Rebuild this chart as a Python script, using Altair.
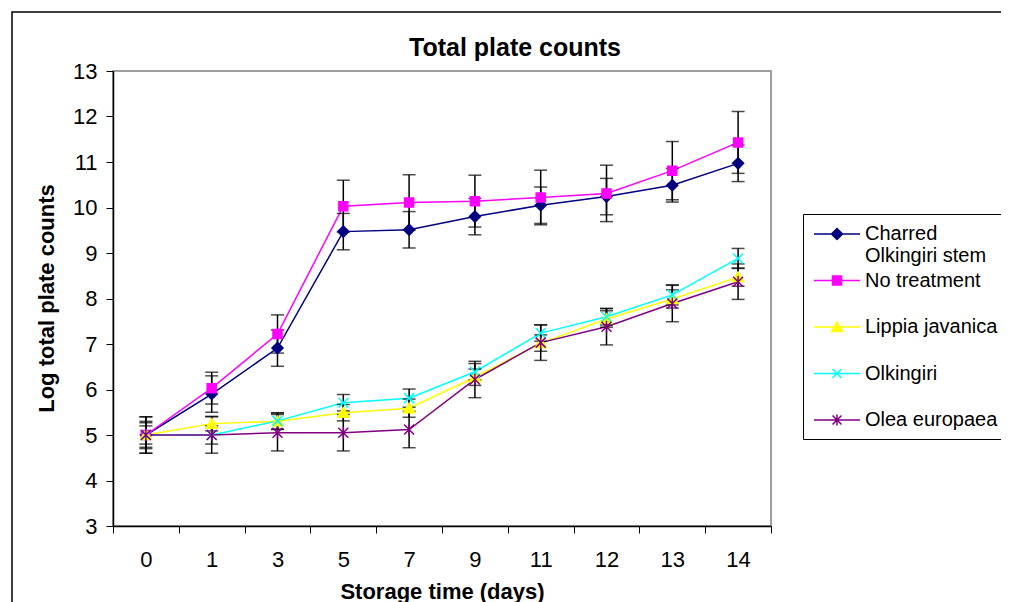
import altair as alt
import pandas as pd

days = ["0", "1", "3", "5", "7", "9", "11", "12", "13", "14"]
series = ["Charred Olkingiri stem", "No treatment", "Lippia javanica", "Olkingiri", "Olea europaea"]
colors = ["#000080", "#FF00FF", "#FFFF00", "#00FFFF", "#800080"]

charred = [5.0, 5.90, 6.91, 9.47, 9.51, 9.80, 10.05, 10.24, 10.49, 10.97]
no_treat = [5.0, 6.03, 7.22, 10.03, 10.11, 10.14, 10.22, 10.31, 10.81, 11.43]
lippia = [5.0, 5.25, 5.30, 5.49, 5.59, 6.27, 7.02, 7.55, 7.99, 8.47]
olkingiri = [5.0, 5.0, 5.31, 5.71, 5.81, 6.39, 7.24, 7.60, 8.08, 8.88]
olea = [5.0, 5.0, 5.05, 5.05, 5.12, 6.22, 7.03, 7.38, 7.89, 8.37]

err_charred = [0.4, 0.4, 0.4, 0.4, 0.4, 0.4, 0.4, 0.4, 0.37, 0.4]
err_no_treat = [0.3, 0.35, 0.42, 0.57, 0.61, 0.57, 0.6, 0.62, 0.64, 0.68]
err_lippia = [0.2, 0.16, 0.18, 0.18, 0.2, 0.18, 0.18, 0.18, 0.2, 0.2]
err_olkingiri = [0.27, 0.2, 0.18, 0.18, 0.2, 0.18, 0.18, 0.18, 0.22, 0.22]
err_olea = [0.4, 0.4, 0.4, 0.4, 0.4, 0.4, 0.39, 0.4, 0.4, 0.39]

chart_title = ["Total plate counts"]

values = [charred, no_treat, lippia, olkingiri, olea]
errors = [err_charred, err_no_treat, err_lippia, err_olkingiri, err_olea]

# marker shapes (plot) and legend symbols (line + marker)
plot_shapes = [
    "M0,-1.1L1.1,0L0,1.1L-1.1,0Z",
    "M-0.9,-0.9H0.9V0.9H-0.9Z",
    "M0,-1L1.1,0.9H-1.1Z",
    "M-1,-1L1,1M-1,1L1,-1",
    "M-1,-1L1,1M-1,1L1,-1M0,-1.2V1.2",
]
legend_shapes = [
    "M-2.3,0H2.3M0,-0.55L0.55,0L0,0.55L-0.55,0Z",
    "M-2.3,0H2.3M-0.45,-0.45H0.45V0.45H-0.45Z",
    "M-2.3,0H2.3M0,-0.5L0.55,0.45H-0.55Z",
    "M-2.3,0H2.3M-0.45,-0.45L0.45,0.45M-0.45,0.45L0.45,-0.45",
    "M-2.3,0H2.3M-0.45,-0.45L0.45,0.45M-0.45,0.45L0.45,-0.45M0,-0.55V0.55",
]

rows = []
for s, vals, errs in zip(series, values, errors):
    for d, v, e in zip(days, vals, errs):
        rows.append({"day": d, "series": s, "value": v, "err": e})
df = pd.DataFrame(rows)

FONT = "Liberation Sans"

x_enc = alt.X(
    "day:O",
    sort=days,
    scale=alt.Scale(type="band", domain=days, paddingInner=0, paddingOuter=0),
    axis=alt.Axis(
        title="Storage time (days)",
        labelAngle=0,
        tickBand="extent",
        tickSize=7,
        labelFontSize=22,
        labelPadding=16,
        titleFontSize=22,
        titleFontWeight="bold",
        titleY=72,
        titleBaseline="alphabetic",
        grid=False,
    ),
)
y_enc = alt.Y(
    "value:Q",
    scale=alt.Scale(domain=[3, 13], nice=False, zero=False),
    axis=alt.Axis(
        title="Log total plate counts",
        values=list(range(3, 14)),
        tickSize=7,
        labelFontSize=22,
        labelPadding=9,
        titleFontSize=22,
        titleFontWeight="bold",
        titleAngle=270,
        titleX=-60,
        titleY=227,
        titleAlign="center",
        titleBaseline="alphabetic",
        grid=False,
    ),
)

base = alt.Chart(df)

frame = alt.Chart(alt.Data(values=[{"k": 1}])).mark_rect(
    fill="white", fillOpacity=0, stroke="black", strokeWidth=1.5
).encode(
    x=alt.value(-101), x2=alt.value(950), y=alt.value(-59), y2=alt.value(600)
)

title_text = alt.Chart(alt.Data(values=[{"t": t} for t in chart_title])).mark_text(
    fontSize=25, fontWeight="bold", font=FONT, color="black",
    align="center", baseline="alphabetic"
).encode(text="t:N", x=alt.value(402), y=alt.value(-15))

lines = base.mark_line(strokeWidth=1.5).encode(
    x=x_enc,
    y=y_enc,
    color=alt.Color("series:N", scale=alt.Scale(domain=series, range=colors), legend=None),
    detail="series:N",
)

bars = base.transform_calculate(
    lo="datum.value - datum.err", hi="datum.value + datum.err"
).mark_rule(color="black", strokeWidth=1.5).encode(
    x=x_enc, y=alt.Y("lo:Q"), y2="hi:Q"
)
cap_lo = base.transform_calculate(lo="datum.value - datum.err").mark_tick(
    color="black", size=13, thickness=1.5
).encode(x=x_enc, y=alt.Y("lo:Q"))
cap_hi = base.transform_calculate(hi="datum.value + datum.err").mark_tick(
    color="black", size=13, thickness=1.5
).encode(x=x_enc, y=alt.Y("hi:Q"))

points = base.mark_point(filled=True, opacity=1, size=100, strokeWidth=1.5).encode(
    x=x_enc,
    y=y_enc,
    fill=alt.Fill("series:N", scale=alt.Scale(domain=series, range=colors), legend=None),
    stroke=alt.Stroke("series:N", scale=alt.Scale(domain=series, range=colors), legend=None),
    shape=alt.Shape("series:N", scale=alt.Scale(domain=series, range=plot_shapes), legend=None),
)

leg = alt.Legend(
    title=None,
    orient="none",
    legendX=690,
    legendY=143,
    labelFontSize=20,
    labelFont=FONT,
    labelColor="black",
    labelOffset=17,
    labelExpr="datum.label == 'Charred Olkingiri stem' ? ['Charred', 'Olkingiri stem'] : (datum.label == 'Olea europaea' ? datum.label : [datum.label, ''])",
    symbolSize=400,
    symbolStrokeWidth=1.5,
    symbolOffset=14,
    padding=9,
    rowPadding=3.5,
    fillColor="white",
    strokeColor="black",
    labelLimit=300,
)

legend_layer = base.transform_filter("false").mark_point(
    filled=True, opacity=1, size=400, strokeWidth=1.5
).encode(
    fill=alt.Fill("series:N", scale=alt.Scale(domain=series, range=colors), legend=leg),
    stroke=alt.Stroke("series:N", scale=alt.Scale(domain=series, range=colors), legend=leg),
    shape=alt.Shape("series:N", scale=alt.Scale(domain=series, range=legend_shapes), legend=leg),
)

chart = alt.layer(frame, title_text, lines, bars, cap_lo, cap_hi, points, legend_layer).resolve_scale(
    color="independent", fill="independent", stroke="independent", shape="independent"
).properties(
    width=658,
    height=455,
    autosize=alt.AutoSizeParams(type="none"),
    padding={"left": 105, "top": 63, "right": 230, "bottom": 76},
).configure(
    font=FONT,
    background="white",
).configure_view(
    fill="#C0C0C0", stroke="#808080", strokeWidth=1.5
).configure_axis(
    domainColor="black",
    tickColor="black",
    labelColor="black",
    titleColor="black",
    labelFont=FONT,
    titleFont=FONT,
    domainWidth=1.5,
    tickWidth=1,
)

chart.save("out.html", embed_options={"renderer": "svg", "actions": False})
